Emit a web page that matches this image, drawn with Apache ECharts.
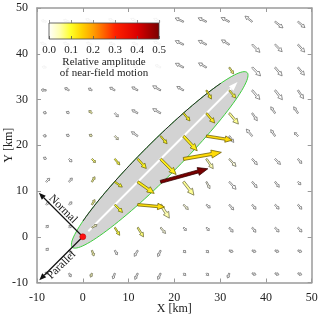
<!DOCTYPE html>
<html><head><meta charset="utf-8">
<script src="https://cdn.jsdelivr.net/npm/echarts@6/dist/echarts.min.js"></script>
<style>html,body{margin:0;padding:0;background:#fff}#c{width:320px;height:318px}</style>
</head><body><div id="c"></div>
<script>
// ---------------- data ----------------
const gridX = [-8, -3, 2, 7, 12, 17, 22, 27, 32, 37, 42, 47];
const gridY = [47, 42, 37, 32, 27, 22, 17, 12, 7, 2, -3, -8]; // rows, top to bottom
// motion direction (deg, 0 = east, counter-clockwise)
const angles = [
  [165,160,155,155,155,155,156,155,153,142,-38,-40],
  [160,160,160,160,160,155,155,153,149,-45,-45,-48],
  [170,160,160,160,160,155,153,150,-56,-45,-50,-50],
  [175,150,150,150,150,150,150,-60,-50,-50,-52,-56],
  [160,150,140,-45,150,150,-50,-50,-50,-56,124,124],
  [170,150,150,-45,145,-50,-47,-9,-55,130,124,135],
  [150,-45,-45,-50,-48,-45,10,-55,-48,-48,-45,-50],
  [45,50,60,-35,-35,15.5,-52,-63,-48,-50,-52,-45],
  [45,45,60,-45,-5,-57,-45,-40,-50,-50,-48,-50],
  [45,45,30,-58,-58,-50,-45,-45,-50,-52,-48,-48],
  [45,-45,-70,-60,-120,-115,-45,-45,-20,-20,-20,-20],
  [45,-60,-110,-110,-115,-115,-45,-45,-110,-20,-20,-20]
];
// arrow length (km on the map scale)
const lengths = [
  [1.1,1.3,1.5,1.5,1.7,1.7,2.0,2.0,2.0,2.0,2.2,2.0],
  [1.3,1.3,1.3,1.3,1.3,1.7,2.0,2.0,2.0,2.4,2.2,2.2],
  [0.9,1.1,1.1,1.1,1.1,1.3,2.0,2.0,1.7,2.6,2.4,2.2],
  [1.1,1.1,0.9,1.3,1.5,2.0,1.7,2.2,2.2,2.6,2.6,2.2],
  [0.7,0.7,0.9,1.1,1.5,2.0,2.2,2.8,3.1,2.0,1.7,1.7],
  [0.7,0.7,0.7,1.1,1.7,2.2,4.4,5.7,1.7,2.0,1.7,1.1],
  [0.7,0.9,1.1,1.7,2.8,4.8,8.4,2.6,2.2,1.7,1.7,1.3],
  [1.1,1.1,1.3,2.0,4.4,10.7,3.7,1.7,2.2,1.7,1.5,0.9],
  [0.9,0.9,1.3,2.4,5.9,3.5,1.5,1.1,1.5,1.3,1.3,1.3],
  [0.7,0.7,1.3,2.0,2.4,1.7,0.9,0.9,1.3,1.3,1.3,1.3],
  [0.7,0.9,1.3,1.1,1.5,1.5,0.7,0.7,0.9,0.9,0.9,0.9],
  [0.4,0.9,0.9,1.3,1.5,1.5,0.7,0.7,1.1,0.9,0.9,0.9]
];
// relative amplitude of near-field motion
const amps = [
  [0,0,0,0,0,0,0,0,0,0,0,0],
  [0,0,0,0,0,0,0,0,0,0,0,0],
  [0,0,0,0,0,0,0,0,0.07,0,0,0],
  [0,0,0,0,0,0,0,0.11,0.09,0,0,0],
  [0,0,0.05,0,0,0,0.11,0.12,0.06,0,0,0],
  [0,0,0.04,0.02,0,0.11,0.12,0.14,0,0,0,0],
  [0,0,0.07,0.09,0.11,0.12,0.14,0.05,0.02,0,0,0],
  [0,0,0.06,0.10,0.12,0.50,0.06,0.01,0,0,0,0],
  [0,0,0.06,0.10,0.135,0.05,0.02,0,0,0,0,0],
  [0,0,0.04,0.09,0.07,0.02,0,0,0,0,0,0],
  [0,0,0.05,0,0,0,0,0,0,0,0,0],
  [0,0,0.04,0,0,0,0,0,0,0,0,0]
];
const faultEllipse = [16.8, 16.8, 27, 3.9, 45]; // centre x, centre y, semi-major, semi-minor, azimuth
const ruptureArrow = [1.2, 1.2, 33.8, 33.8];
const hypocenter = [0, 0];
const frameArrows = [['Normal', -9.6, 9.6], ['Parallel', -9.5, -9.5]];
const cbValues = [0, 0.05, 0.1, 0.15, 0.2, 0.25, 0.3, 0.4, 0.5];
const cbColors = ['#ffffff','#ffffb0','#ffff28','#ffd200','#ffa000','#ff6200','#ff2200','#dc0000','#780000'];
const cbTitle = ['Relative amplitude', 'of near-field motion'];

// ---------------- helpers ----------------
function hex2rgb(h){return [parseInt(h.substr(1,2),16),parseInt(h.substr(3,2),16),parseInt(h.substr(5,2),16)];}
function cmap(v){
  if (v <= cbValues[0]) return hex2rgb(cbColors[0]);
  for (let i=1;i<cbValues.length;i++){
    if (v <= cbValues[i]){
      const t=(v-cbValues[i-1])/(cbValues[i]-cbValues[i-1]);
      const a=hex2rgb(cbColors[i-1]), b=hex2rgb(cbColors[i]);
      return a.map((c,k)=>Math.round(c+(b[k]-c)*t));
    }
  }
  return hex2rgb(cbColors[cbColors.length-1]);
}
const rgb = c => 'rgb('+c.join(',')+')';
function arrowPts(p0,p1,hlMax,hwMax,swMax){
  const dx=p1[0]-p0[0], dy=p1[1]-p0[1];
  const L=Math.hypot(dx,dy)||1, ux=dx/L, uy=dy/L, nx=-uy, ny=ux;
  const hl=Math.min(hlMax,Math.max(2,L*0.38));
  const hw=Math.min(hwMax,Math.max(1.5,L*0.2));
  const sw=Math.min(swMax,Math.max(0.7,L*0.07));
  const bx=p1[0]-ux*hl, by=p1[1]-uy*hl;
  return [[p0[0]+nx*sw,p0[1]+ny*sw],[bx+nx*sw,by+ny*sw],[bx+nx*hw,by+ny*hw],[p1[0],p1[1]],
          [bx-nx*hw,by-ny*hw],[bx-nx*sw,by-ny*sw],[p0[0]-nx*sw,p0[1]-ny*sw]];
}

const vecData=[];
gridY.forEach((y,i)=>gridX.forEach((x,j)=>{
  const a=angles[i][j]*Math.PI/180, l=lengths[i][j];
  vecData.push([x,y,l*Math.cos(a),l*Math.sin(a),amps[i][j]]);
}));
vecData.sort((p,q)=>p[4]-q[4]);

const serif='Liberation Serif, Times New Roman, serif';
const chart=echarts.init(document.getElementById('c'),null,{renderer:'canvas'});
const mainAxisCommon={type:'value',min:-10,max:50,interval:10,
  axisLine:{show:true,onZero:false,lineStyle:{color:'#9a9a9a',width:1.5}},
  axisTick:{show:true,inside:true,length:4,lineStyle:{color:'#9a9a9a',width:1}},
  splitLine:{show:false}};
chart.setOption({
  animation:false,
  backgroundColor:'#fff',
  grid:[
    {left:37,top:8,width:274.7,height:274.5,outerBoundsMode:'none'},
    {left:49,top:23,width:110,height:16,outerBoundsMode:'none'}
  ],
  xAxis:[
    Object.assign({},mainAxisCommon,{gridIndex:0,position:'bottom',
      axisLabel:{color:'#222',fontFamily:serif,fontSize:12,margin:9},
      name:'X [km]',nameLocation:'middle',nameGap:20,nameMoveOverlap:false,
      nameTextStyle:{color:'#222',fontFamily:serif,fontSize:12}}),
    Object.assign({},mainAxisCommon,{gridIndex:0,position:'top',axisLabel:{show:false}}),
    {gridIndex:1,type:'value',min:0,max:0.5,interval:0.1,position:'bottom',z:12,
      axisLine:{show:false,onZero:false},
      axisTick:{show:true,inside:true,length:3,lineStyle:{color:'#555',width:0.8}},
      axisLabel:{color:'#222',fontFamily:serif,fontSize:11,margin:6,formatter:v=>v.toFixed(1)},
      splitLine:{show:false}},
    {gridIndex:1,type:'value',min:0,max:0.5,interval:0.1,position:'top',z:12,
      axisLine:{show:false,onZero:false},
      axisTick:{show:true,inside:false,length:3,lineStyle:{color:'#777',width:0.8}},
      axisLabel:{show:false},splitLine:{show:false}}
  ],
  yAxis:[
    Object.assign({},mainAxisCommon,{gridIndex:0,position:'left',
      axisLabel:{color:'#222',fontFamily:serif,fontSize:12,margin:9},
      name:'Y [km]',nameLocation:'middle',nameGap:22,nameMoveOverlap:false,
      nameTextStyle:{color:'#222',fontFamily:serif,fontSize:12}}),
    Object.assign({},mainAxisCommon,{gridIndex:0,position:'right',axisLabel:{show:false}}),
    {gridIndex:1,type:'value',min:0,max:1,show:false}
  ],
  graphic:[
    {type:'rect',z:5,shape:{x:40,y:13,width:128,height:67},style:{fill:'rgba(255,255,255,0.9)'}},
    {type:'text',z:12,x:104,y:62,style:{text:cbTitle[0],font:'11px '+serif,fill:'#222',align:'center',verticalAlign:'middle'}},
    {type:'text',z:12,x:104,y:73,style:{text:cbTitle[1],font:'11px '+serif,fill:'#222',align:'center',verticalAlign:'middle'}}
  ],
  series:[
    { // rupture ellipse
      type:'custom',z:1,xAxisIndex:0,yAxisIndex:0,data:[faultEllipse],encode:{x:0,y:1},silent:true,
      renderItem:function(params,api){
        const cx=api.value(0),cy=api.value(1),a=api.value(2),b=api.value(3),ph=api.value(4)*Math.PI/180;
        const pt=t=>{const al=a*Math.cos(t),pe=b*Math.sin(t);
          return api.coord([cx+al*Math.cos(ph)-pe*Math.sin(ph),cy+al*Math.sin(ph)+pe*Math.cos(ph)]);};
        const full=[];for(let d=0;d<360;d+=3)full.push(pt(d*Math.PI/180));
        const arc=[];for(let d=38;d<=142;d+=2)arc.push(pt(d*Math.PI/180));
        return {type:'group',children:[
          {type:'polygon',shape:{points:full},style:{fill:'#d3d3d3',stroke:'#3fcf3f',lineWidth:1}},
          {type:'polyline',shape:{points:arc},style:{fill:null,stroke:'#2a2a2a',lineWidth:1}}
        ]};
      }
    },
    { // rupture direction (white arrow)
      type:'custom',z:2,xAxisIndex:0,yAxisIndex:0,data:[ruptureArrow],encode:{x:[0,2],y:[1,3]},silent:true,
      renderItem:function(params,api){
        const p0=api.coord([api.value(0),api.value(1)]),p1=api.coord([api.value(2),api.value(3)]);
        const dx=p1[0]-p0[0],dy=p1[1]-p0[1],L=Math.hypot(dx,dy),ux=dx/L,uy=dy/L;
        const bx=p1[0]-ux*9,by=p1[1]-uy*9;
        return {type:'group',children:[
          {type:'line',shape:{x1:p0[0],y1:p0[1],x2:bx,y2:by},style:{stroke:'#fff',lineWidth:2}},
          {type:'polygon',shape:{points:[[p1[0],p1[1]],[bx-uy*3.2,by+ux*3.2],[bx+uy*3.2,by-ux*3.2]]},style:{fill:'#fff'}}
        ]};
      }
    },
    { // near-field motion vectors
      type:'custom',z:3,xAxisIndex:0,yAxisIndex:0,data:vecData,encode:{x:0,y:1},silent:true,clip:true,
      renderItem:function(params,api){
        const x=api.value(0),y=api.value(1),u=api.value(2),v=api.value(3),am=api.value(4);
        const p0=api.coord([x,y]),p1=api.coord([x+u,y+v]);
        const c=cmap(am), s=c.map(k=>Math.round(k*0.42));
        const L=Math.hypot(p1[0]-p0[0],p1[1]-p0[1]);
        const big=L>30;
        return {type:'polygon',shape:{points:arrowPts(p0,p1,big?10:7,big?4:3.2,big?1.5:1.2)},
          style:{fill:rgb(c),stroke:rgb(s),lineWidth:0.75}};
      }
    },
    { // normal / parallel frame arrows and hypocentre
      type:'custom',z:4,xAxisIndex:0,yAxisIndex:0,data:frameArrows.map(d=>[hypocenter[0],hypocenter[1],d[1],d[2]]),
      encode:{x:[0,2],y:[1,3]},silent:true,
      renderItem:function(params,api){
        const p0=api.coord([api.value(0),api.value(1)]),p1=api.coord([api.value(2),api.value(3)]);
        const dx=p1[0]-p0[0],dy=p1[1]-p0[1],L=Math.hypot(dx,dy),ux=dx/L,uy=dy/L;
        const bx=p1[0]-ux*7,by=p1[1]-uy*7;
        const name=frameArrows[params.dataIndex][0];
        const isN=params.dataIndex===0;
        const t=isN?0.54:0.57, off=isN?5.5:5;
        let nx=-uy,ny=ux; if(nx<0){nx=-nx;ny=-ny;}
        const tx=p0[0]+dx*t+nx*off, ty=p0[1]+dy*t+ny*off;
        const kids=[
          {type:'line',shape:{x1:p0[0],y1:p0[1],x2:bx,y2:by},style:{stroke:'#111',lineWidth:1.2}},
          {type:'polygon',shape:{points:[[p1[0],p1[1]],[bx-uy*2.8,by+ux*2.8],[bx+uy*2.8,by-ux*2.8]]},style:{fill:'#111'}},
          {type:'text',x:tx,y:ty,rotation:isN?-Math.PI/4:Math.PI/4,
            style:{text:name,font:'11.5px '+serif,fill:'#111',align:'center',verticalAlign:'middle'}}
        ];
        if(params.dataIndex===1){
          kids.push({type:'circle',shape:{cx:p0[0],cy:p0[1],r:3},style:{fill:'#ff1010',stroke:'#b00000',lineWidth:0.5}});
        }
        return {type:'group',children:kids};
      }
    },
    { // colour bar
      type:'custom',z:11,xAxisIndex:2,yAxisIndex:2,data:[[cbValues[0],0,cbValues[cbValues.length-1],1]],
      encode:{x:[0,2],y:[1,3]},silent:true,
      renderItem:function(params,api){
        const p0=api.coord([api.value(0),api.value(3)]),p1=api.coord([api.value(2),api.value(1)]);
        const vmax=api.value(2);
        const grad=new echarts.graphic.LinearGradient(0,0,1,0,cbValues.map((v,i)=>({offset:v/vmax,color:cbColors[i]})));
        return {type:'rect',shape:{x:p0[0],y:p0[1],width:p1[0]-p0[0],height:p1[1]-p0[1]},
          style:{fill:grad,stroke:'#444',lineWidth:0.8}};
      }
    }
  ]
});
</script></body></html>
